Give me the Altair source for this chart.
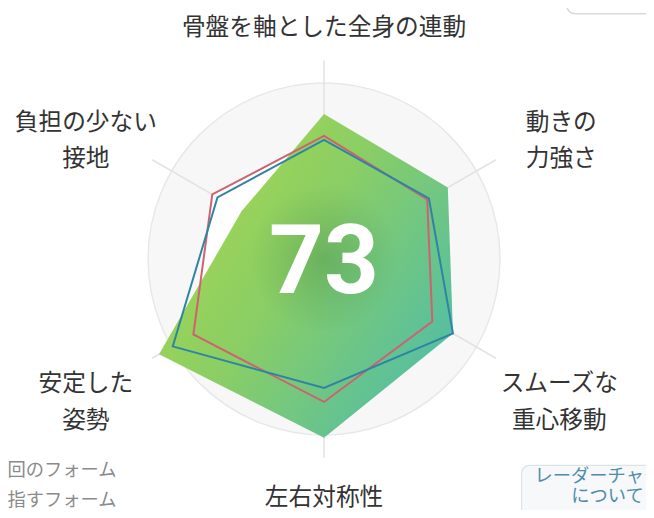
import math
import altair as alt
import pandas as pd

# ---------------- data ----------------
axis_labels = ["骨盤を軸とした全身の連動", "動きの\n力強さ", "スムーズな\n重心移動",
               "左右対称性", "安定した\n姿勢", "負担の少ない\n接地"]
current_form = [73, 72, 75, 90, 96, 48]
previous_form = [62, 60, 63, 72, 76, 65]
target_form = [60, 61, 75, 65, 88, 62]
score_text = "73"
legend_labels = ["前回のフォーム", "目指すフォーム"]
button_lines = ["レーダーチャート", "について"]

# ---------------- layout ----------------
W, H = 646, 502
K = 2.01            # pixels per unit (100 units = outer ring)
CX, CY = 320, 251   # centre in chart pixels
XDOM = [-CX / K, (W - CX) / K]
YDOM = [-(H - CY) / K, CY / K]

X = alt.X("x:Q", scale=alt.Scale(domain=XDOM, nice=False, zero=False), axis=None)
Y = alt.Y("y:Q", scale=alt.Scale(domain=YDOM, nice=False, zero=False), axis=None)
X2 = alt.X2("x2:Q")
Y2 = alt.Y2("y2:Q")

label_pos = [(0, 116.4), (119.5, 68.5), (118.5, -63.2), (0, -120.6), (-120, -63.2), (-120, 68.5)]
legend_pos = [(-104.5, -106.5), (-104.5, -121.4)]
button_text_pos = [(142.8, -109.5), (142.8, -119.4)]


def poly_df(vals):
    rows = []
    for i, v in enumerate(vals):
        th = math.radians(60 * i)
        rows.append({"order": i, "x": v * math.sin(th), "y": v * math.cos(th)})
    return pd.DataFrame(rows)


spokes = pd.DataFrame([
    {"x": 0.0, "y": 0.0, "x2": 100 * math.sin(math.radians(60 * i)),
     "y2": 100 * math.cos(math.radians(60 * i))} for i in range(6)
])
centre = pd.DataFrame([{"x": 0.0, "y": 0.0, "t": score_text}])
labels = pd.DataFrame([{"x": p[0], "y": p[1], "t": t} for p, t in zip(label_pos, axis_labels)])
legend = pd.DataFrame([{"x": p[0], "y": p[1], "t": t} for p, t in zip(legend_pos, legend_labels)])
btn_text = pd.DataFrame([{"x": p[0], "y": p[1], "t": t} for p, t in zip(button_text_pos, button_lines)])
btn_box = pd.DataFrame([{"x": 99.5, "x2": 186.0, "y": -104.0, "y2": -140.0}])
card_box = pd.DataFrame([{"x": 122.4, "x2": 190.0, "y": 143.8, "y2": 123.5}])

# ---------------- layers ----------------
disk = alt.Chart(centre).mark_point(
    shape="circle", size=math.pi * (100 * K) ** 2, filled=True,
    fill="#f7f7f7", stroke="#e8e8e8", strokeWidth=1.5, opacity=1
).encode(x=X, y=Y)

spoke_layer = alt.Chart(spokes).mark_rule(color="#e3e3e3", strokeWidth=1.5).encode(
    x=X, y=Y, x2=X2, y2=Y2)

white_fill = alt.Chart(poly_df(previous_form)).mark_line(
    interpolate="linear-closed", filled=True, fill="#ffffff", fillOpacity=0.85, strokeOpacity=0
).encode(x=X, y=Y, order="order:Q")

grad = alt.LinearGradient(
    gradient="linear",
    stops=[alt.GradientStop(color="#aad84c", offset=0),
           alt.GradientStop(color="#8ace65", offset=0.45),
           alt.GradientStop(color="#4dbcab", offset=1)],
    x1=0, y1=0.15, x2=1, y2=0.85)

green = alt.Chart(poly_df(current_form)).mark_line(
    interpolate="linear-closed", filled=True, fill=grad, strokeOpacity=0
).encode(x=X, y=Y, order="order:Q")

shadow_grad = alt.RadialGradient(
    gradient="radial",
    stops=[alt.GradientStop(color="rgba(40,110,60,0.28)", offset=0),
           alt.GradientStop(color="rgba(40,110,60,0.12)", offset=0.55),
           alt.GradientStop(color="rgba(40,110,60,0)", offset=1)],
    x1=0.5, y1=0.5, r1=0, x2=0.5, y2=0.5, r2=0.5)

shadow = alt.Chart(centre).mark_point(
    shape="circle", size=math.pi * 85 ** 2, filled=True, fill=shadow_grad,
    strokeOpacity=0, opacity=1
).encode(x=X, y=Y)

red_line = alt.Chart(poly_df(previous_form)).mark_line(
    interpolate="linear-closed", color="#cf6170", strokeWidth=2
).encode(x=X, y=Y, order="order:Q")

blue_line = alt.Chart(poly_df(target_form)).mark_line(
    interpolate="linear-closed", color="#2f84a3", strokeWidth=2
).encode(x=X, y=Y, order="order:Q")

score = alt.Chart(centre).mark_text(
    font="Roboto", fontSize=97, fontWeight="bold", color="#ffffff", dy=5
).encode(x=X, y=Y, text="t:N")

label_layer = alt.Chart(labels).mark_text(
    font="Noto Sans CJK JP", fontSize=24, color="#333333", lineBreak="\n", lineHeight=37,
    align="center", baseline="middle"
).encode(x=X, y=Y, text="t:N")

legend_layer = alt.Chart(legend).mark_text(
    font="Noto Sans CJK JP", fontSize=18.5, color="#8a8a8a", align="right", baseline="middle"
).encode(x=X, y=Y, text="t:N")

btn_rect = alt.Chart(btn_box).mark_rect(
    fill="#f6f8f9", stroke="#dde2e5", strokeWidth=1.2, cornerRadius=8
).encode(x=X, y=Y, x2=X2, y2=Y2)

btn_label = alt.Chart(btn_text).mark_text(
    font="Noto Sans CJK JP", fontSize=18.5, color="#4f8eab", align="center", baseline="middle"
).encode(x=X, y=Y, text="t:N")

card_rect = alt.Chart(card_box).mark_rect(
    fill="#ffffff", stroke="#d9d9d9", strokeWidth=1.5, cornerRadius=8
).encode(x=X, y=Y, x2=X2, y2=Y2)

chart = alt.layer(
    disk, spoke_layer, white_fill, green, shadow, red_line, blue_line, score,
    label_layer, legend_layer, btn_rect, btn_label, card_rect
).properties(
    width=W, height=H, padding=0, background="#ffffff",
    autosize=alt.AutoSizeParams(type="none")
).configure_view(stroke=None)

chart.save("out.html", embed_options={"renderer": "svg", "actions": False})
